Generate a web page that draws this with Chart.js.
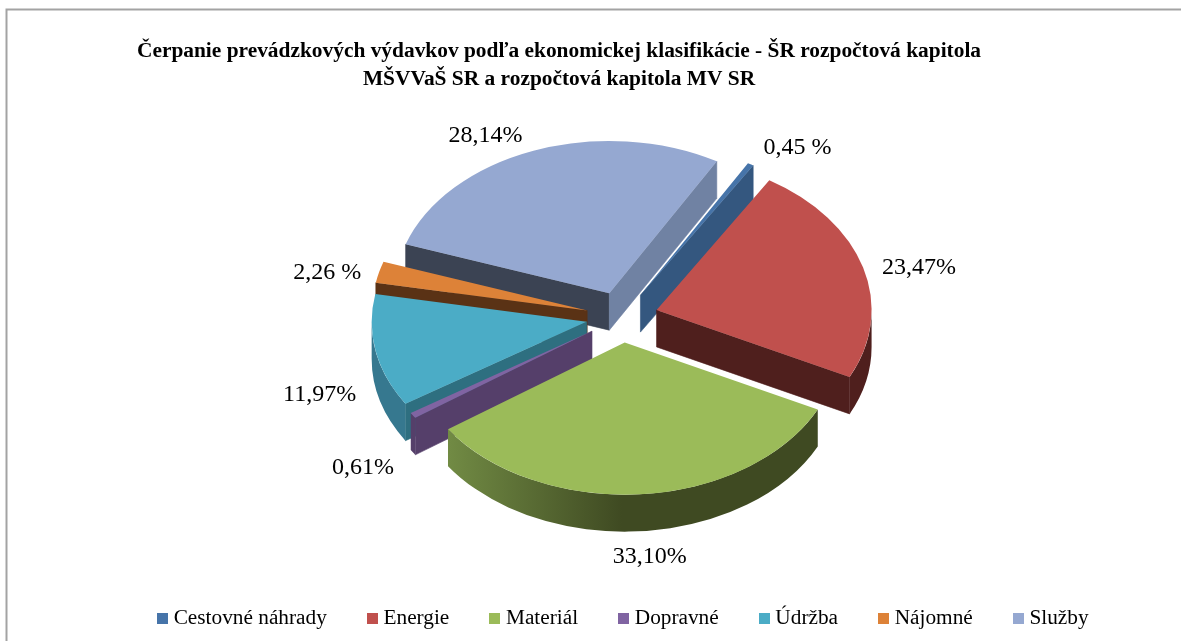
<!DOCTYPE html>
<html><head><meta charset="utf-8">
<style>html,body{margin:0;padding:0;background:#fff}#w{width:1181px;height:641px}canvas{display:block}</style>
<script src="https://cdn.jsdelivr.net/npm/chart.js@4"></script></head>
<body><div id="w"><canvas id="c" width="1181" height="641"></canvas></div>
<script>
const categories = ['Cestovné náhrady','Energie','Materiál','Dopravné','Údržba','Nájomné','Služby'];
const values = [0.45,23.47,33.10,0.61,11.97,2.26,28.14];
const valueLabels = ['0,45 %','23,47%','33,10%','0,61%','11,97%','2,26 %','28,14%'];
const titleLines = ['Čerpanie prevádzkových výdavkov podľa ekonomickej klasifikácie - ŠR rozpočtová kapitola','MŠVVaŠ SR a rozpočtová kapitola MV SR'];
const topColors = ['#4674a9','#c0504d','#9bbb59','#8064a2','#4bacc6','#dd8238','#95a8d1'];
const faceColors = ['#34577f','#4f1f1d','#3f4a22','#553f6a','#2e6f80','#5a3215','#3b4353'];
const outerFrom = ['#34577f','#4f1f1d','#7d9a4c','#553f6a','#36788f','#5a3215','#7082a3'];
const outerTo = ['#34577f','#4f1f1d','#3f4a22','#553f6a','#3d92ab','#5a3215','#7082a3'];
const sideFaceColors = ['#34577f','#4f1f1d','#3f4a22','#553f6a','#2e6f80','#5a3215','#7082a3'];
const paintOrder = [6,0,5,1,4,3,2];
const labelNudge = [[47,-17],[56,0],[9,62],[-50,52],[-56,44],[-52,1],[-48,-15]];
const CX=622, CY=317, SQUASH=0.708, DEPTH=37, RADIUS=215, EXPLODE=36;
const LEGEND_X=162, LEGEND_TEXT_TOP=608;
const SERIF='"Liberation Serif","Times New Roman",serif';

const legendBoxes = topColors.map(col=>{const k=document.createElement('canvas');k.width=11;k.height=11;const g=k.getContext('2d');g.fillStyle=col;g.fillRect(0,0,11,11);return k;});

const pie3d = {
  id:'pie3d',
  afterLayout(chart){
    const t=chart.titleBlock; t.left=559-500; t.right=559+500; t.top=37;
    const l=chart.legend, pad=l.options.labels.padding;
    l.top=LEGEND_TEXT_TOP-pad; l.left=0; l.right=2*LEGEND_X+l.lineWidths[0]-pad;
  },
  beforeDraw(chart){
    const c=chart.ctx; c.save(); c.fillStyle='#fff'; c.fillRect(0,0,1181,641);
    c.strokeStyle='#a3a3a3'; c.lineWidth=2; c.beginPath(); c.moveTo(6.5,641); c.lineTo(6.5,9.5); c.lineTo(1181,9.5); c.stroke(); c.restore();
  },
  beforeDatasetsDraw(chart){
    const c=chart.ctx, arcs=chart.getDatasetMeta(0).data;
    const fill=(col)=>{c.fillStyle=col;c.strokeStyle=col;c.lineWidth=0.6;c.fill();c.stroke();};
    paintOrder.forEach(i=>{
      const a=arcs[i], off=EXPLODE, R=a.outerRadius;
      const mid=(a.startAngle+a.endAngle)/2;
      const ax=CX+Math.cos(mid)*off, ay=CY+Math.sin(mid)*off*SQUASH;
      const P=t=>[ax+Math.cos(t)*R, ay+Math.sin(t)*R*SQUASH];
      const M=P(mid);
      [a.startAngle,a.endAngle].forEach(ang=>{
        const p=P(ang), dx=p[0]-ax, dy=p[1]-ay;
        let nx=-dy, ny=dx;
        if(nx*(M[0]-ax)+ny*(M[1]-ay)>0){nx=-nx;ny=-ny;}
        if(ny<=0) return;
        c.beginPath();c.moveTo(ax,ay);c.lineTo(p[0],p[1]);c.lineTo(p[0],p[1]+DEPTH);c.lineTo(ax,ay+DEPTH);c.closePath();
        fill(nx>0?sideFaceColors[i]:faceColors[i]);
      });
      // outer rim: only the part facing the viewer
      for(const k of [-2,0,2]){
        const from=Math.max(a.startAngle,k*Math.PI), to=Math.min(a.endAngle,k*Math.PI+Math.PI);
        if(to<=from) continue;
        const g=c.createLinearGradient(CX-R,0,CX,0);
        g.addColorStop(0,outerFrom[i]); g.addColorStop(1,outerTo[i]);
        c.beginPath();
        c.ellipse(ax,ay,R,R*SQUASH,0,from,to);
        c.ellipse(ax,ay+DEPTH,R,R*SQUASH,0,to,from,true);
        c.closePath();
        c.fillStyle=g;c.fill();
      }
      c.save();
      c.translate(ax,ay); c.scale(1,SQUASH); c.translate(-a.x,-a.y);
      a.draw(c);
      c.restore();
    });
    return false;
  },
  afterDraw(chart){
    const c=chart.ctx, arcs=chart.getDatasetMeta(0).data;
    c.save(); c.font='24px '+SERIF; c.fillStyle='#000'; c.textAlign='center'; c.textBaseline='middle';
    arcs.forEach((a,i)=>{
      const mid=(a.startAngle+a.endAngle)/2, r=a.outerRadius+EXPLODE;
      c.fillText(valueLabels[i], CX+Math.cos(mid)*r+labelNudge[i][0], CY+Math.sin(mid)*r*SQUASH+labelNudge[i][1]);
    });
    c.restore();
  }
};

new Chart(document.getElementById('c'),{
  type:'pie',
  data:{labels:categories,datasets:[{data:values,backgroundColor:topColors,borderWidth:0,rotation:30}]},
  options:{
    responsive:false,animation:false,radius:RADIUS,
    events:[],
    plugins:{
      tooltip:{enabled:false},
      title:{display:true,text:titleLines,color:'#000',font:{family:SERIF,size:21.4,weight:'bold',lineHeight:1.33},padding:0},
      legend:{display:true,position:'bottom',
        labels:{color:'#000',font:{family:SERIF,size:21.3},padding:45,usePointStyle:true,pointStyleWidth:1,boxHeight:11,
          generateLabels(chart){return Chart.overrides.doughnut.plugins.legend.labels.generateLabels(chart).map((it,i)=>({...it,pointStyle:legendBoxes[i]}));}
        }}
    }
  },
  plugins:[pie3d]
});
</script></body></html>
